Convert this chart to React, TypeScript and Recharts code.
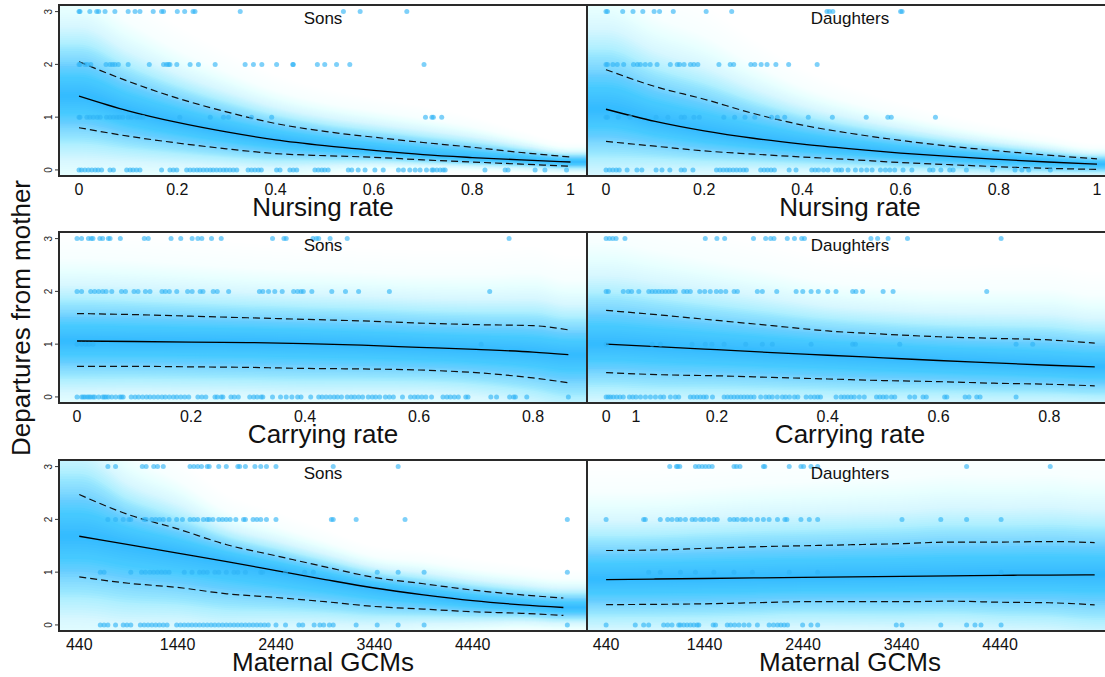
import React from "react";
import { Area, ComposedChart, Line, Scatter, XAxis, YAxis } from "recharts";

const PLOT_H = 171;
const Y_DOMAIN: [number, number] = [-0.115, 3.125];
const HAZE = "#36c0fb";
const DOT = "#2fb3f5";
const FONT = '"Liberation Sans", Arial, Helvetica, sans-serif';

// ---- Nursing rate ----
const nurseX = [0, 0.1, 0.2, 0.3, 0.4, 0.5, 0.6, 0.7, 0.8, 0.9, 1];
const nurseTicks = [0, 0.2, 0.4, 0.6, 0.8, 1];
const nurseTickLabels = ["0", "0.2", "0.4", "0.6", "0.8", "1"];

const nurseSonsFit = [1.4, 1.12, 0.9, 0.72, 0.57, 0.46, 0.37, 0.29, 0.235, 0.19, 0.15];
const nurseSonsHi = [2.05, 1.68, 1.36, 1.1, 0.88, 0.73, 0.62, 0.52, 0.43, 0.33, 0.245];
const nurseSonsLo = [0.8, 0.64, 0.51, 0.4, 0.31, 0.27, 0.24, 0.19, 0.15, 0.11, 0.07];
const nurseSons0 = [0, 0.005, 0.012, 0.019, 0.026, 0.033, 0.039, 0.046, 0.063, 0.07, 0.097, 0.104, 0.11, 0.117, 0.124, 0.168, 0.185, 0.192, 0.199, 0.219, 0.226, 0.233, 0.24, 0.246, 0.253, 0.26, 0.267, 0.273, 0.28, 0.287, 0.294, 0.3, 0.307, 0.314, 0.321, 0.344, 0.351, 0.358, 0.365, 0.371, 0.402, 0.409, 0.429, 0.436, 0.443, 0.48, 0.487, 0.494, 0.5, 0.507, 0.548, 0.555, 0.568, 0.582, 0.602, 0.619, 0.65, 0.66, 0.673, 0.684, 0.694, 0.707, 0.718, 0.721, 0.728, 0.735, 0.741, 0.745, 0.826, 0.867, 0.873, 0.928, 0.948, 0.992];
const nurseSons1 = [0, 0.002, 0.016, 0.022, 0.029, 0.037, 0.043, 0.056, 0.063, 0.07, 0.077, 0.082, 0.089, 0.1, 0.107, 0.117, 0.124, 0.13, 0.205, 0.267, 0.294, 0.304, 0.351, 0.392, 0.705, 0.718, 0.721, 0.738];
const nurseSons2 = [0, 0.002, 0.012, 0.017, 0.024, 0.055, 0.063, 0.068, 0.073, 0.08, 0.1, 0.143, 0.172, 0.178, 0.182, 0.185, 0.199, 0.226, 0.243, 0.277, 0.338, 0.355, 0.372, 0.402, 0.435, 0.436, 0.485, 0.5, 0.524, 0.551, 0.702];
const nurseSons3 = [0, 0.002, 0.022, 0.036, 0.04, 0.053, 0.073, 0.1, 0.114, 0.124, 0.151, 0.168, 0.172, 0.2, 0.215, 0.232, 0.236, 0.328, 0.538, 0.572, 0.667];

const nurseDausFit = [1.15, 0.92, 0.74, 0.6, 0.49, 0.4, 0.32, 0.255, 0.2, 0.15, 0.11];
const nurseDausHi = [1.9, 1.58, 1.34, 1.07, 0.85, 0.69, 0.56, 0.45, 0.36, 0.28, 0.21];
const nurseDausLo = [0.54, 0.45, 0.36, 0.3, 0.245, 0.195, 0.14, 0.1, 0.06, 0.03, 0.01];
const nurseDaus0 = [0, 0.007, 0.014, 0.021, 0.027, 0.043, 0.063, 0.073, 0.102, 0.114, 0.13, 0.153, 0.16, 0.177, 0.225, 0.232, 0.239, 0.246, 0.252, 0.259, 0.266, 0.273, 0.28, 0.286, 0.315, 0.322, 0.329, 0.336, 0.343, 0.373, 0.387, 0.419, 0.426, 0.433, 0.443, 0.452, 0.467, 0.474, 0.48, 0.493, 0.508, 0.52, 0.531, 0.542, 0.559, 0.569, 0.578, 0.588, 0.605, 0.623, 0.659, 0.666, 0.682, 0.7, 0.707, 0.734, 0.787, 0.833, 0.847, 0.861, 0.905];
const nurseDaus1 = [0, 0.003, 0.025, 0.049, 0.102, 0.126, 0.153, 0.16, 0.179, 0.19, 0.24, 0.262, 0.283, 0.303, 0.337, 0.349, 0.364, 0.412, 0.461, 0.53, 0.574, 0.581, 0.671];
const nurseDaus2 = [0, 0.003, 0.014, 0.023, 0.036, 0.056, 0.064, 0.07, 0.08, 0.09, 0.104, 0.131, 0.145, 0.15, 0.159, 0.172, 0.179, 0.187, 0.23, 0.253, 0.26, 0.295, 0.303, 0.316, 0.328, 0.346, 0.372, 0.43];
const nurseDaus3 = [0, 0.003, 0.034, 0.055, 0.075, 0.098, 0.109, 0.137, 0.204, 0.256, 0.45, 0.455, 0.462, 0.6, 0.603];

// ---- Carrying rate ----
const carryTicks = [0, 0.2, 0.4, 0.6, 0.8];
const carryTickLabels = ["0", "0.2", "0.4", "0.6", "0.8"];
const carryTicksDaus = [0, 0.054, 0.2, 0.4, 0.6, 0.8];
const carryTickLabelsDaus = ["0", "1", "0.2", "0.4", "0.6", "0.8"];

const carrySonsX = [0, 0.1, 0.2, 0.3, 0.4, 0.5, 0.6, 0.7, 0.8, 0.862];
const carrySonsFit = [1.06, 1.05, 1.04, 1.03, 1.01, 0.98, 0.94, 0.9, 0.85, 0.8];
const carrySonsHi = [1.58, 1.56, 1.53, 1.5, 1.47, 1.44, 1.4, 1.37, 1.35, 1.27];
const carrySonsLo = [0.58, 0.58, 0.57, 0.56, 0.54, 0.53, 0.51, 0.46, 0.36, 0.27];
const carrySons0 = [0, 0.008, 0.011, 0.014, 0.018, 0.021, 0.024, 0.028, 0.031, 0.038, 0.045, 0.048, 0.051, 0.055, 0.061, 0.068, 0.075, 0.078, 0.081, 0.095, 0.102, 0.108, 0.115, 0.122, 0.128, 0.135, 0.142, 0.149, 0.155, 0.162, 0.169, 0.175, 0.182, 0.189, 0.196, 0.212, 0.219, 0.226, 0.242, 0.246, 0.253, 0.256, 0.27, 0.276, 0.283, 0.303, 0.31, 0.316, 0.323, 0.326, 0.343, 0.357, 0.367, 0.377, 0.387, 0.393, 0.41, 0.424, 0.43, 0.437, 0.444, 0.451, 0.457, 0.464, 0.474, 0.481, 0.487, 0.494, 0.501, 0.511, 0.518, 0.524, 0.531, 0.541, 0.548, 0.555, 0.571, 0.585, 0.592, 0.598, 0.605, 0.612, 0.622, 0.642, 0.649, 0.655, 0.662, 0.669, 0.682, 0.686, 0.726, 0.736, 0.759, 0.766, 0.769, 0.789, 0.862];
const carrySons1 = [0, 0.008, 0.015, 0.021, 0.028, 0.709];
const carrySons2 = [0, 0.008, 0.024, 0.031, 0.038, 0.045, 0.051, 0.061, 0.078, 0.085, 0.1, 0.107, 0.12, 0.128, 0.149, 0.155, 0.162, 0.175, 0.194, 0.202, 0.216, 0.221, 0.239, 0.246, 0.266, 0.32, 0.326, 0.336, 0.347, 0.36, 0.38, 0.387, 0.393, 0.397, 0.412, 0.447, 0.471, 0.494, 0.548, 0.724];
const carrySons3 = [0, 0.008, 0.02, 0.025, 0.028, 0.04, 0.045, 0.055, 0.058, 0.076, 0.118, 0.125, 0.165, 0.182, 0.202, 0.212, 0.219, 0.236, 0.253, 0.343, 0.363, 0.367, 0.414, 0.42, 0.424, 0.444, 0.474, 0.758];

const carryDausX = [0, 0.1, 0.2, 0.3, 0.4, 0.5, 0.6, 0.7, 0.8, 0.882];
const carryDausFit = [1.0, 0.95, 0.895, 0.84, 0.79, 0.74, 0.69, 0.645, 0.6, 0.57];
const carryDausHi = [1.64, 1.55, 1.45, 1.35, 1.25, 1.19, 1.14, 1.11, 1.08, 1.02];
const carryDausLo = [0.46, 0.42, 0.4, 0.37, 0.34, 0.31, 0.29, 0.26, 0.24, 0.21];
const carryDaus0 = [0, 0.004, 0.008, 0.013, 0.019, 0.025, 0.031, 0.042, 0.048, 0.054, 0.062, 0.071, 0.08, 0.089, 0.098, 0.104, 0.116, 0.125, 0.131, 0.152, 0.158, 0.164, 0.17, 0.176, 0.181, 0.192, 0.213, 0.219, 0.225, 0.231, 0.237, 0.243, 0.249, 0.255, 0.261, 0.267, 0.279, 0.288, 0.294, 0.3, 0.309, 0.318, 0.324, 0.331, 0.34, 0.346, 0.361, 0.369, 0.376, 0.382, 0.387, 0.415, 0.424, 0.43, 0.436, 0.442, 0.448, 0.457, 0.466, 0.488, 0.494, 0.5, 0.506, 0.515, 0.521, 0.548, 0.557, 0.572, 0.578, 0.611, 0.615, 0.648, 0.655, 0.669, 0.675, 0.74];
const carryDaus1 = [0, 0.083, 0.098, 0.155, 0.179, 0.191, 0.213, 0.252, 0.282, 0.3, 0.37, 0.445, 0.45, 0.53, 0.74, 0.77];
const carryDaus2 = [0, 0.004, 0.031, 0.04, 0.046, 0.059, 0.077, 0.083, 0.089, 0.095, 0.101, 0.107, 0.113, 0.119, 0.125, 0.14, 0.146, 0.152, 0.169, 0.178, 0.188, 0.199, 0.207, 0.216, 0.231, 0.237, 0.273, 0.282, 0.308, 0.343, 0.355, 0.37, 0.383, 0.4, 0.415, 0.445, 0.451, 0.463, 0.5, 0.518, 0.687];
const carryDaus3 = [0, 0.006, 0.012, 0.018, 0.034, 0.179, 0.2, 0.214, 0.266, 0.288, 0.297, 0.303, 0.327, 0.34, 0.353, 0.358, 0.478, 0.49, 0.509, 0.544, 0.713];

// ---- Maternal GCMs ----
const gcmTicks = [440, 1440, 2440, 3440, 4440];
const gcmTickLabels = ["440", "1440", "2440", "3440", "4440"];

const gcmSonsX = [440, 940, 1440, 1940, 2440, 2940, 3440, 3940, 4440, 4940, 5362];
const gcmSonsFit = [1.68, 1.52, 1.36, 1.2, 1.03, 0.86, 0.7, 0.57, 0.46, 0.38, 0.33];
const gcmSonsHi = [2.47, 2.09, 1.82, 1.52, 1.31, 1.1, 0.9, 0.78, 0.66, 0.57, 0.51];
const gcmSonsLo = [0.91, 0.79, 0.71, 0.59, 0.52, 0.44, 0.35, 0.3, 0.25, 0.22, 0.18];
const gcmSons0 = [654, 692, 731, 809, 887, 925, 964, 1061, 1100, 1139, 1178, 1217, 1255, 1294, 1333, 1430, 1469, 1508, 1547, 1585, 1624, 1663, 1702, 1741, 1780, 1818, 1857, 1896, 1935, 1974, 2013, 2051, 2090, 2129, 2168, 2207, 2246, 2284, 2323, 2362, 2440, 2537, 2673, 2712, 2828, 2886, 2925, 2983, 3022, 3255, 3469, 3682, 3946, 5402];
const gcmSons1 = [654, 692, 964, 1073, 1112, 1158, 1197, 1236, 1275, 1314, 1353, 1508, 1586, 1663, 1702, 1741, 1819, 1858, 1935, 2013, 2052, 2129, 2285, 2304, 2537, 2731, 2820, 3469, 3682, 3946, 5402];
const gcmSons2 = [731, 809, 887, 945, 964, 1100, 1120, 1178, 1217, 1256, 1294, 1353, 1430, 1489, 1566, 1605, 1644, 1702, 1741, 1761, 1799, 1858, 1896, 1935, 1974, 2032, 2110, 2129, 2207, 2246, 2285, 2343, 2440, 3003, 3022, 3255, 3752, 5402];
const gcmSons3 = [731, 809, 1081, 1120, 1197, 1236, 1294, 1566, 1605, 1644, 1683, 1741, 1761, 1858, 1935, 2052, 2071, 2129, 2226, 2285, 2343, 2440, 3022, 3682];

const gcmDausX = [440, 940, 1440, 1940, 2440, 2940, 3440, 3940, 4440, 4940, 5400];
const gcmDausFit = [0.86, 0.87, 0.88, 0.89, 0.9, 0.91, 0.92, 0.93, 0.94, 0.945, 0.95];
const gcmDausHi = [1.41, 1.42, 1.45, 1.48, 1.5, 1.52, 1.54, 1.57, 1.57, 1.58, 1.56];
const gcmDausLo = [0.385, 0.39, 0.4, 0.42, 0.44, 0.44, 0.44, 0.45, 0.43, 0.42, 0.38];
const gcmDaus0 = [440, 736, 821, 872, 1024, 1065, 1109, 1177, 1194, 1228, 1262, 1296, 1330, 1364, 1381, 1527, 1551, 1670, 1704, 1745, 1789, 1840, 1891, 1976, 2095, 2139, 2180, 2214, 2248, 2282, 2435, 2520, 2588, 3386, 3444, 3838, 4100, 4185, 4246, 4450];
const gcmDaus1 = [872, 990, 1194, 1347, 1534, 1738, 1925, 2299, 2588, 4450];
const gcmDaus2 = [440, 821, 838, 990, 1065, 1109, 1160, 1194, 1245, 1313, 1347, 1398, 1432, 1483, 1534, 1568, 1697, 1738, 1772, 1823, 1857, 1908, 1976, 2037, 2095, 2180, 2255, 2275, 2418, 2503, 2588, 3444, 3838, 4100, 4450];
const gcmDaus3 = [1086, 1154, 1167, 1188, 1347, 1381, 1415, 1449, 1483, 1517, 1738, 1765, 1799, 2037, 2051, 2299, 2418, 2445, 2520, 2588, 4100, 4949];

// shading profile: how much density sits in each slab away from the curve
// (slab edges in units of half the interval width)
const hazeSlabs = [
  { from: 0, to: 1, w: 0.85 },
  { from: 1, to: 2, w: 0.85 },
  { from: 2, to: 3, w: 0.42 },
  { from: 3, to: 4, w: 0.18 },
  { from: 4, to: 5, w: 0.08 },
  { from: 5, to: 6, w: 0.05 },
  { from: 6, to: 8, w: 0.04 },
];
const STEPS = 8;
const hazeLayers = hazeSlabs.flatMap((s) =>
  Array.from({ length: STEPS }, (_, i) => ({
    k: s.from + ((i + 1) * (s.to - s.from)) / STEPS,
    a: 1 - Math.exp(-s.w / STEPS),
  }))
);

function buildRows(xs: number[], fit: number[], hi: number[], lo: number[], domain: [number, number]) {
  const core = xs.map((x, i) => ({
    x, fit: fit[i], hi: hi[i], lo: lo[i],
    mid: fit[i], up: (hi[i] - fit[i]) / 2, dn: (fit[i] - lo[i]) / 2,
  }));
  const first = core[0];
  const last = core[core.length - 1];
  // the shading runs on to the panel edges
  const all: any[] = [
    { x: domain[0], mid: first.mid, up: first.up, dn: first.dn },
    ...core,
    { x: domain[1], mid: last.mid, up: last.up, dn: last.dn },
  ];
  return all.map((r) => {
    const row: any = { ...r };
    hazeLayers.forEach((l, j) => {
      row["b" + j] = [r.mid - l.k * r.dn, r.mid + l.k * r.up];
    });
    return row;
  });
}

function buildPoints(levels: number[][]) {
  const out: { x: number; y: number }[] = [];
  levels.forEach((xs, y) => xs.forEach((x) => out.push({ x, y })));
  return out;
}

const dotShape = (p: any) => (
  <circle cx={p.cx} cy={p.cy} r={2.5} fill={DOT} fillOpacity={0.62} />
);

type PanelProps = {
  left: number;
  top: number;
  width: number;
  withY: boolean;
  domain: [number, number];
  ticks: number[];
  tickLabels: string[];
  rows: any[];
  points: { x: number; y: number }[];
};

const Panel = ({ left, top, width, withY, domain, ticks, tickLabels, rows, points }: PanelProps) => {
  const xTick = (props: any) => {
    const idx = ticks.indexOf(props.payload.value);
    return (
      <text x={props.x} y={props.y + 18.5} textAnchor="middle" fontSize={16} fontFamily={FONT} fill="#111">
        {tickLabels[idx]}
      </text>
    );
  };
  const yTick = (props: any) => (
    <text
      transform={`translate(${props.x - 3},${props.y}) rotate(-90)`}
      textAnchor="middle"
      fontSize={10}
      fontFamily={FONT}
      fill="#222"
    >
      {props.payload.value}
    </text>
  );
  return (
    <div style={{ position: "absolute", left, top }}>
      <ComposedChart width={width} height={PLOT_H + 30} data={rows} margin={{ top: 0, right: 0, bottom: 0, left: 0 }}>
        <XAxis
          type="number"
          dataKey="x"
          domain={domain}
          allowDataOverflow
          ticks={ticks}
          interval={0}
          tickSize={0}
          tickMargin={0}
          axisLine={false}
          tickLine={false}
          height={30}
          tick={xTick}
        />
        <YAxis
          type="number"
          domain={Y_DOMAIN}
          allowDataOverflow
          hide={!withY}
          width={withY ? 59 : 0}
          ticks={[0, 1, 2, 3]}
          interval={0}
          tickSize={4}
          tickMargin={0}
          axisLine={false}
          tickLine={{ stroke: "#333", strokeWidth: 1 }}
          tick={yTick}
        />
        <Scatter data={points} dataKey="y" shape={dotShape} isAnimationActive={false} />
        {hazeLayers.map((l, j) => (
          <Area
            key={j}
            dataKey={"b" + j}
            type="monotone"
            stroke="none"
            fill={HAZE}
            fillOpacity={l.a}
            dot={false}
            activeDot={false}
            isAnimationActive={false}
          />
        ))}
        <Line dataKey="hi" type="monotone" stroke="#111" strokeWidth={1.2} strokeDasharray="7 4" dot={false} activeDot={false} isAnimationActive={false} />
        <Line dataKey="lo" type="monotone" stroke="#111" strokeWidth={1.2} strokeDasharray="7 4" dot={false} activeDot={false} isAnimationActive={false} />
        <Line dataKey="fit" type="monotone" stroke="#000" strokeWidth={1.3} dot={false} activeDot={false} isAnimationActive={false} />
      </ComposedChart>
    </div>
  );
};

const ROW_TOPS = [5, 232, 460];
const LEFT_X = 0;
const RIGHT_X = 587;

const domains = {
  nurseSons: [-0.0407, 1.0336] as [number, number],
  nurseDaus: [-0.0387, 1.0163] as [number, number],
  carrySons: [-0.0316, 0.8947] as [number, number],
  carryDaus: [-0.0345, 0.9005] as [number, number],
  gcmSons: [234, 5602] as [number, number],
  gcmDaus: [246, 5505] as [number, number],
};

const panels = [
  { row: 0, col: 0, title: "Nursing rate", group: "Sons", domain: domains.nurseSons, ticks: nurseTicks, labels: nurseTickLabels,
    rows: buildRows(nurseX, nurseSonsFit, nurseSonsHi, nurseSonsLo, domains.nurseSons),
    points: buildPoints([nurseSons0, nurseSons1, nurseSons2, nurseSons3]) },
  { row: 0, col: 1, title: "Nursing rate", group: "Daughters", domain: domains.nurseDaus, ticks: nurseTicks, labels: nurseTickLabels,
    rows: buildRows(nurseX, nurseDausFit, nurseDausHi, nurseDausLo, domains.nurseDaus),
    points: buildPoints([nurseDaus0, nurseDaus1, nurseDaus2, nurseDaus3]) },
  { row: 1, col: 0, title: "Carrying rate", group: "Sons", domain: domains.carrySons, ticks: carryTicks, labels: carryTickLabels,
    rows: buildRows(carrySonsX, carrySonsFit, carrySonsHi, carrySonsLo, domains.carrySons),
    points: buildPoints([carrySons0, carrySons1, carrySons2, carrySons3]) },
  { row: 1, col: 1, title: "Carrying rate", group: "Daughters", domain: domains.carryDaus, ticks: carryTicksDaus, labels: carryTickLabelsDaus,
    rows: buildRows(carryDausX, carryDausFit, carryDausHi, carryDausLo, domains.carryDaus),
    points: buildPoints([carryDaus0, carryDaus1, carryDaus2, carryDaus3]) },
  { row: 2, col: 0, title: "Maternal GCMs", group: "Sons", domain: domains.gcmSons, ticks: gcmTicks, labels: gcmTickLabels,
    rows: buildRows(gcmSonsX, gcmSonsFit, gcmSonsHi, gcmSonsLo, domains.gcmSons),
    points: buildPoints([gcmSons0, gcmSons1, gcmSons2, gcmSons3]) },
  { row: 2, col: 1, title: "Maternal GCMs", group: "Daughters", domain: domains.gcmDaus, ticks: gcmTicks, labels: gcmTickLabels,
    rows: buildRows(gcmDausX, gcmDausFit, gcmDausHi, gcmDausLo, domains.gcmDaus),
    points: buildPoints([gcmDaus0, gcmDaus1, gcmDaus2, gcmDaus3]) },
];

export default function App() {
  return (
    <div style={{ position: "absolute", left: 0, top: 0, width: 1105, height: 677, background: "#fff", overflow: "hidden", fontFamily: FONT }}>
      {panels.map((p, i) => (
        <Panel
          key={i}
          left={p.col === 0 ? LEFT_X : RIGHT_X}
          top={ROW_TOPS[p.row]}
          width={p.col === 0 ? 587 : 518}
          withY={p.col === 0}
          domain={p.domain}
          ticks={p.ticks}
          tickLabels={p.labels}
          rows={p.rows}
          points={p.points}
        />
      ))}
      {panels.map((p, i) => (
        <div
          key={"frame" + i}
          style={{
            position: "absolute",
            left: p.col === 0 ? 58 : 586,
            top: ROW_TOPS[p.row] - 1,
            width: 530,
            height: PLOT_H + 2,
            border: "2px solid #2a2a2a",
            boxSizing: "border-box",
          }}
        />
      ))}
      <svg width={1105} height={677} style={{ position: "absolute", left: 0, top: 0, pointerEvents: "none" }}>
        <text transform="translate(29.5,318) rotate(-90)" textAnchor="middle" fontSize={26} fontFamily={FONT} fill="#111">
          Departures from mother
        </text>
        {panels.map((p, i) => {
          const cx = p.col === 0 ? 323 : 850;
          const top = ROW_TOPS[p.row];
          return (
            <g key={"t" + i}>
              <text x={cx} y={top + 19} textAnchor="middle" fontSize={17} fontFamily={FONT} fill="#111">
                {p.group}
              </text>
              <text x={cx} y={top + 210.5} textAnchor="middle" fontSize={26} fontFamily={FONT} fill="#111">
                {p.title}
              </text>
            </g>
          );
        })}
      </svg>
    </div>
  );
}
